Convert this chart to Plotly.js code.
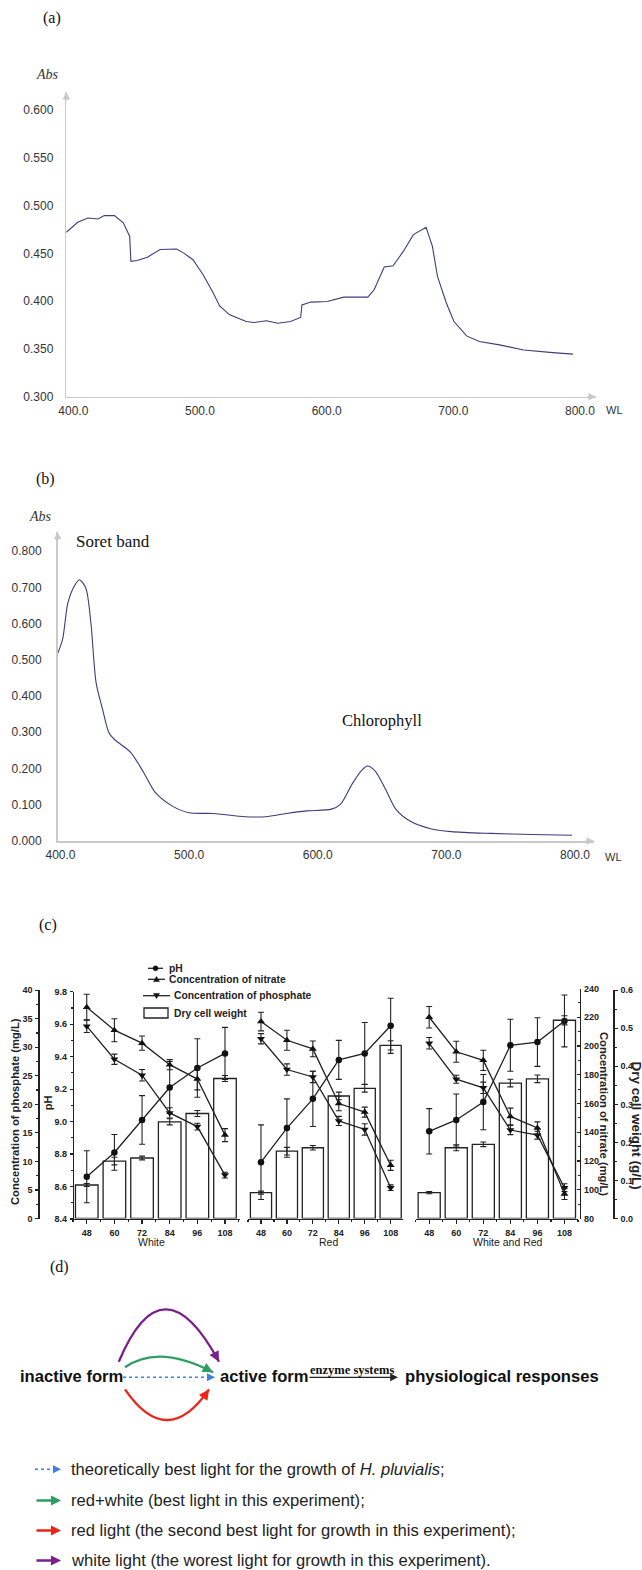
<!DOCTYPE html>
<html><head><meta charset="utf-8">
<script src="https://cdn.plot.ly/plotly-3.0.1.min.js"></script>
<style>html,body{margin:0;padding:0;background:#fff}#chart{width:642px;height:1570px}</style>
</head><body><div id="chart"></div>
<script>
// ---------- DATA ----------
// (a) absorption spectrum
const wlA  = [400,409,417,425,430,438,445,450,451,456,464,474,487,493,500,508,516,521,529,542,548,558,567,577,585,586,593,606,619,638,643,651,658,666,674,684,689,693,700,706,716,726,742,761,784,800];
const absA = [0.472,0.4825,0.487,0.486,0.4895,0.4895,0.482,0.468,0.4416,0.4426,0.446,0.454,0.4545,0.450,0.4433,0.4276,0.4084,0.395,0.3857,0.3787,0.3776,0.3794,0.3769,0.3787,0.3829,0.3961,0.399,0.3996,0.4042,0.4042,0.4119,0.4357,0.437,0.452,0.4696,0.4773,0.4573,0.4259,0.398,0.3787,0.3636,0.3577,0.3542,0.3489,0.3461,0.3445];
// (b) absorption spectrum
const wlB  = [400,404,408,413,417,422,426,430,435,440,445,449,457,467,476,489,502,521,546,562,578,594,613,620,629,636,641,647,655,663,674,690,706,737,769,800];
const absB = [0.516,0.557,0.656,0.703,0.721,0.698,0.600,0.437,0.364,0.299,0.278,0.267,0.244,0.189,0.134,0.097,0.078,0.076,0.067,0.067,0.076,0.083,0.088,0.101,0.157,0.193,0.207,0.193,0.143,0.088,0.055,0.034,0.026,0.021,0.018,0.016];
const specTicks = [400,500,600,700,800];
const specTickText = ['400.0','500.0','600.0','700.0','800.0'];
const absTicksA = [0.30,0.35,0.40,0.45,0.50,0.55,0.60];
const absTicksB = [0,0.1,0.2,0.3,0.4,0.5,0.6,0.7,0.8];

// (c) culture time (h)
const hours = [48,60,72,84,96,108];
const lightNames = ['White','Red','White and Red'];
const pH_White = [8.66,8.81,9.01,9.21,9.33,9.42];
const pH_Red   = [8.75,8.96,9.14,9.38,9.42,9.59];
const pH_WR    = [8.94,9.01,9.12,9.47,9.49,9.62];
const pHErr_White = [0.16,0.11,0.15,0.16,0.18,0.16];
const pHErr_Red   = [0.23,0.18,0.17,0.12,0.19,0.17];
const pHErr_WR    = [0.14,0.16,0.17,0.16,0.15,0.16];
const nitrate_White = [227,211,202,187,177,138];
const nitrate_Red   = [217,204,198,160,154,117];
const nitrate_WR    = [220,196,190,151,143,97];
const nitrateErr_White = [9,8,5,3.5,7.5,4.5];
const nitrateErr_Red   = [6.5,7,5.5,5,3.5,3.5];
const nitrateErr_WR    = [7.5,7.3,7,5.8,4.2,3.8];
const phosphate_White = [33.7,27.9,25.1,18.5,16.1,7.6];
const phosphate_Red   = [31.5,26.1,24.8,17.1,15.6,5.4];
const phosphate_WR    = [30.7,24.4,22.9,15.5,14.6,5.4];
const phosphateErr_White = [1.1,0.9,1.0,0.9,0.6,0.5];
const phosphateErr_Red   = [0.9,1.0,1.0,0.8,1.0,0.5];
const phosphateErr_WR    = [1.0,0.7,1.0,0.8,0.7,0.7];
const dcw_White = [0.088,0.151,0.159,0.254,0.276,0.368];
const dcw_Red   = [0.068,0.177,0.186,0.322,0.342,0.455];
const dcw_WR    = [0.068,0.186,0.195,0.356,0.367,0.521];
const dcwErr_White = [0.004,0.010,0.005,0.008,0.008,0.008];
const dcwErr_Red   = [0.004,0.010,0.006,0.010,0.010,0.012];
const dcwErr_WR    = [0.003,0.008,0.006,0.010,0.010,0.012];

// ---------- HELPERS ----------
const W = 642, H = 1570;
const X = p => p / W;
const Y = p => 1 - p / H;
const fSans = 'Liberation Sans, Arial, sans-serif';
const fNarrow = 'Liberation Sans Narrow, Arial Narrow, Liberation Sans, sans-serif';
const fSerif = 'Liberation Serif, Times New Roman, serif';
const axGray = '#c9c9c9';
const ink = '#222';

const traces = [];
// (a)
traces.push({x: wlA, y: absA, xaxis: 'x', yaxis: 'y', type: 'scatter', mode: 'lines',
  line: {color: '#3d3d7c', width: 1.1}, hoverinfo: 'skip'});
// (b)
traces.push({x: wlB, y: absB, xaxis: 'x2', yaxis: 'y2', type: 'scatter', mode: 'lines',
  line: {color: '#3d3d7c', width: 1.1, shape: 'spline', smoothing: 0.8}, hoverinfo: 'skip'});

// (c)
const panels = [
  {xa: 'x3', pH: pH_White, pHE: pHErr_White, ni: nitrate_White, niE: nitrateErr_White, ph: phosphate_White, phE: phosphateErr_White, d: dcw_White, dE: dcwErr_White},
  {xa: 'x4', pH: pH_Red, pHE: pHErr_Red, ni: nitrate_Red, niE: nitrateErr_Red, ph: phosphate_Red, phE: phosphateErr_Red, d: dcw_Red, dE: dcwErr_Red},
  {xa: 'x5', pH: pH_WR, pHE: pHErr_WR, ni: nitrate_WR, niE: nitrateErr_WR, ph: phosphate_WR, phE: phosphateErr_WR, d: dcw_WR, dE: dcwErr_WR}
];
const errStyle = arr => ({type: 'data', array: arr, visible: true, color: ink, thickness: 1.1, width: 3});
panels.forEach(p => {
  traces.push({type: 'bar', x: hours, y: p.d, xaxis: p.xa, yaxis: 'y6', width: 9.8,
    marker: {color: 'rgba(0,0,0,0)', line: {color: ink, width: 1.3}}, error_y: errStyle(p.dE), hoverinfo: 'skip'});
  traces.push({type: 'scatter', mode: 'lines+markers', x: hours, y: p.pH, xaxis: p.xa, yaxis: 'y3',
    line: {color: ink, width: 1.3}, marker: {symbol: 'circle', size: 6.5, color: '#111'}, error_y: errStyle(p.pHE), hoverinfo: 'skip'});
  traces.push({type: 'scatter', mode: 'lines+markers', x: hours, y: p.ni, xaxis: p.xa, yaxis: 'y5',
    line: {color: ink, width: 1.3}, marker: {symbol: 'triangle-up', size: 7, color: '#111'}, error_y: errStyle(p.niE), hoverinfo: 'skip'});
  traces.push({type: 'scatter', mode: 'lines+markers', x: hours, y: p.ph, xaxis: p.xa, yaxis: 'y4',
    line: {color: ink, width: 1.3}, marker: {symbol: 'triangle-down', size: 7, color: '#111'}, error_y: errStyle(p.phE), hoverinfo: 'skip'});
});

// ---------- AXES ----------
const specTickFont = {family: fNarrow, size: 12, color: '#333'};
const xa = {domain: [X(66.3), X(596)], range: [400, 400 + (596 - 66.3) / 1.2668], anchor: 'y',
  tickmode: 'array', tickvals: specTicks, ticktext: specTickText, ticks: '', showgrid: false, zeroline: false,
  showline: true, linecolor: axGray, linewidth: 1.5, tickfont: specTickFont, ticklabelshift: 7, ticklabelstandoff: 2};
const ya = {domain: [Y(396.7), Y(92)], range: [0.3, 0.3 + (396.7 - 92) / 955.7], anchor: 'x',
  tickmode: 'array', tickvals: absTicksA, ticktext: absTicksA.map(v => v.toFixed(3)), ticks: '', showgrid: false, zeroline: false,
  showline: true, linecolor: axGray, linewidth: 1.5, tickfont: specTickFont, ticklabelstandoff: 9};
const xa2 = {domain: [X(57.5), X(594)], range: [400, 400 + (594 - 57.5) / 1.28625], anchor: 'y2',
  tickmode: 'array', tickvals: specTicks, ticktext: specTickText, ticks: '', showgrid: false, zeroline: false,
  showline: true, linecolor: axGray, linewidth: 1.5, tickfont: specTickFont, ticklabelshift: 3, ticklabelstandoff: 2};
const ya2 = {domain: [Y(841), Y(531.7)], range: [0, (841 - 531.7) / 362.4], anchor: 'x2',
  tickmode: 'array', tickvals: absTicksB, ticktext: absTicksB.map(v => v.toFixed(3)), ticks: '', showgrid: false, zeroline: false,
  showline: true, linecolor: axGray, linewidth: 1.5, tickfont: specTickFont, ticklabelstandoff: 12};

const cTickFont = {family: fSans, size: 9, color: '#222', weight: 'bold'};
function panelX(d0, d1, r0, r1) {
  return {domain: [X(d0), X(d1)], range: [r0, r1], anchor: 'y3', tickmode: 'array', tickvals: hours,
    ticks: 'outside', ticklen: 4, tickwidth: 1.2, tickcolor: ink, showline: true, linecolor: ink, linewidth: 1.3,
    showgrid: false, zeroline: false, tickfont: cTickFont, ticklabelstandoff: 1,
    minor: {tickmode: 'linear', tick0: 42, dtick: 6, ticks: 'outside', ticklen: 2, tickcolor: ink, showgrid: false}};
}
const cY = (d0, d1, range, pos, side, extra) => Object.assign({domain: [Y(d0), Y(d1)], range: range, anchor: 'free', position: X(pos), side: side,
  showline: true, linecolor: ink, linewidth: 1.3, ticks: 'outside', ticklen: 3, tickwidth: 1.2, tickcolor: ink,
  showgrid: false, zeroline: false, tickfont: cTickFont, ticklabelstandoff: 1}, extra);

const layout = {
  width: W, height: H, margin: {l: 0, r: 0, t: 0, b: 0}, paper_bgcolor: '#fff', plot_bgcolor: 'rgba(0,0,0,0)',
  showlegend: false, font: {family: fSans, color: '#222'},
  xaxis: xa, yaxis: ya, xaxis2: xa2, yaxis2: ya2,
  xaxis3: panelX(72.7, 239.5, 41.9, 114.3),
  xaxis4: panelX(247.7, 403.4, 41.85, 113.9),
  xaxis5: panelX(415.6, 578, 41.97, 114.0),
  yaxis3: cY(1219, 991.7, [8.4, 9.8], 72.7, 'left', {dtick: 0.2, tick0: 8.4, tickformat: '.1f',
    minor: {dtick: 0.1, ticks: 'outside', ticklen: 2, tickcolor: ink}}),
  yaxis4: cY(1218.5, 990.2, [0, 40], 38.3, 'left', {dtick: 5, tick0: 0,
    minor: {dtick: 2.5, ticks: 'outside', ticklen: 2, tickcolor: ink}}),
  yaxis5: cY(1218.5, 988.5, [80, 240], 580, 'right', {dtick: 20, tick0: 80, ticks: 'inside',
    minor: {dtick: 10, ticks: 'inside', ticklen: 2, tickcolor: ink}}),
  yaxis6: cY(1218.5, 990.2, [0, 0.6], 613.3, 'right', {dtick: 0.1, tick0: 0, tickformat: '.1f',
    minor: {dtick: 0.05, ticks: 'outside', ticklen: 2, tickcolor: ink}}),
  shapes: [], annotations: []
};

const A = layout.annotations, S = layout.shapes;
function txt(text, x, y, font, opts) {
  A.push(Object.assign({text: text, x: X(x), y: Y(y), xref: 'paper', yref: 'paper', showarrow: false,
    xanchor: 'center', yanchor: 'middle', font: font}, opts || {}));
}
function arrowHead(x, y, ax, ay, color, width, size) {
  A.push({text: '', x: X(x), y: Y(y), xref: 'paper', yref: 'paper', showarrow: true, ax: ax, ay: ay,
    axref: 'pixel', ayref: 'pixel', arrowhead: 2, arrowsize: size || 1, arrowwidth: width, arrowcolor: color, standoff: 0});
}
function line(x0, y0, x1, y1, color, width, dash) {
  S.push({type: 'line', xref: 'paper', yref: 'paper', x0: X(x0), y0: Y(y0), x1: X(x1), y1: Y(y1),
    line: {color: color, width: width, dash: dash || 'solid'}});
}

// ----- (a) decorations -----
txt('(a)', 52, 18, {family: fSerif, size: 16, color: '#111'});
txt('<i>Abs</i>', 48, 75, {family: fSerif, size: 14, color: '#333'});
arrowHead(66.3, 92, 0, 10, axGray, 1.5, 1);
arrowHead(596, 396.7, -10, 0, axGray, 1.5, 1);
txt('WL', 614, 410, {family: fNarrow, size: 11, color: '#333'});

// ----- (b) decorations -----
txt('(b)', 46, 479, {family: fSerif, size: 16, color: '#111'});
txt('<i>Abs</i>', 40, 516.7, {family: fSerif, size: 14, color: '#333'});
txt('Soret band', 74, 541.7, {family: fSerif, size: 17, color: '#111'}, {xanchor: 'left'});
txt('Chlorophyll', 382, 720, {family: fSerif, size: 16.5, color: '#111'});
arrowHead(57.5, 531.7, 0, 10, axGray, 1.5, 1);
arrowHead(594, 841, -10, 0, axGray, 1.5, 1);
txt('WL', 613, 856.7, {family: fNarrow, size: 11, color: '#333'});

// ----- (c) decorations -----
txt('(c)', 48, 925, {family: fSerif, size: 16, color: '#111'});
const legFont = {family: fSans, size: 10.3, color: '#222', weight: 'bold'};
// pH
line(148, 968.3, 163, 968.3, ink, 1.3);
S.push({type: 'circle', xref: 'paper', yref: 'paper', x0: X(153), x1: X(158), y0: Y(970.8), y1: Y(965.8), fillcolor: '#111', line: {color: '#111', width: 0.5}});
txt('pH', 167, 968.3, legFont, {xanchor: 'left'});
// nitrate
line(148, 979.3, 165, 979.3, ink, 1.3);
S.push({type: 'path', xref: 'paper', yref: 'paper', path: `M ${X(153.5)},${Y(981.6)} L ${X(159.5)},${Y(981.6)} L ${X(156.5)},${Y(976.4)} Z`, fillcolor: '#111', line: {color: '#111', width: 0.5}});
txt('Concentration of nitrate', 167, 979.3, legFont, {xanchor: 'left'});
// phosphate
line(143, 995.7, 170, 995.7, ink, 1.3);
S.push({type: 'path', xref: 'paper', yref: 'paper', path: `M ${X(153.5)},${Y(993.4)} L ${X(159.5)},${Y(993.4)} L ${X(156.5)},${Y(998.6)} Z`, fillcolor: '#111', line: {color: '#111', width: 0.5}});
txt('Concentration of phosphate', 172, 995.7, legFont, {xanchor: 'left'});
// dry cell weight
S.push({type: 'rect', xref: 'paper', yref: 'paper', x0: X(144), x1: X(168), y0: Y(1018), y1: Y(1008), line: {color: ink, width: 1.3}});
txt('Dry cell weight', 172, 1013, legFont, {xanchor: 'left'});
// axis titles
const tFont = {family: fSans, size: 11.2, color: '#222', weight: 'bold'};
txt('Concentration of phosphate (mg/L)', 15, 1112, tFont, {textangle: -90});
txt('pH', 48.3, 1103, tFont, {textangle: -90});
txt('Concentration of nitrate (mg/L)', 604, 1114, tFont, {textangle: 90});
txt('Dry cell weight (g/L)', 636.5, 1125, {family: fSans, size: 13.5, color: '#222', weight: 'bold'}, {textangle: 90});
// panel names
const pnFont = {family: fSans, size: 10.5, color: '#222'};
txt(lightNames[0], 151.5, 1242, pnFont);
txt(lightNames[1], 328.4, 1242, pnFont);
txt(lightNames[2], 507.8, 1242, pnFont);

// ----- (d) diagram -----
txt('(d)', 59.4, 1266.7, {family: fSerif, size: 16, color: '#111'});
const dFont = {family: fSans, size: 16.6, color: '#111', weight: 'bold'};
txt('inactive form', 18.4, 1376, dFont, {xanchor: 'left'});
txt('active form', 218, 1376, dFont, {xanchor: 'left'});
txt('physiological responses', 403, 1376, dFont, {xanchor: 'left'});
txt('<b>enzyme systems</b>', 352, 1369.5, {family: fSerif, size: 12.5, color: '#111'});
// enzyme arrow
arrowHead(398, 1377.3, -90, 0, '#222', 1.3, 1.2);
// blue dotted
const cBlue = '#3f7fe0', cGreen = '#2e9e62', cRed = '#ee2419', cPurple = '#7b1f8f';
line(123, 1377.3, 211, 1377.3, cBlue, 1.6, 'dot');
arrowHead(215, 1377.3, -5, 0, cBlue, 1.6, 1);
// arcs (quadratic)
function arc(p0, c, p1, color) {
  S.push({type: 'path', xref: 'paper', yref: 'paper',
    path: `M ${X(p0[0])},${Y(p0[1])} Q ${X(c[0])},${Y(c[1])} ${X(p1[0])},${Y(p1[1])}`,
    line: {color: color, width: 2.3}});
  const tx = p1[0] - c[0], ty = p1[1] - c[1], L = Math.hypot(tx, ty);
  arrowHead(p1[0], p1[1], -tx / L * 6, -ty / L * 6, color, 2.3, 0.9);
}
arc([118.8, 1361.7], [162.7, 1256.9], [219, 1361.7], cPurple);
arc([125, 1367.3], [158.6, 1343.6], [213, 1372.3], cGreen);
arc([125, 1389.3], [167, 1450.7], [209, 1389.3], cRed);

// legend of (d)
const lFont = {family: fSans, size: 16.6, color: '#222'};
line(35, 1469.3, 57, 1469.3, cBlue, 1.6, 'dot');
arrowHead(61, 1469.3, -5, 0, cBlue, 1.6, 1);
txt('theoretically best light for the growth of <i>H. pluvialis</i>;', 68.8, 1469.3, lFont, {xanchor: 'left'});
arrowHead(61, 1500.5, -26, 0, cGreen, 2.5, 0.8);
txt('red+white (best light in this experiment);', 68.8, 1500.5, lFont, {xanchor: 'left'});
arrowHead(61, 1530.5, -26, 0, cRed, 2.5, 0.8);
txt('red light (the second best light for growth in this experiment);', 68.8, 1530.5, lFont, {xanchor: 'left'});
arrowHead(61, 1560.5, -26, 0, cPurple, 2.5, 0.8);
txt('white light (the worest light for growth in this experiment).', 68.8, 1560.5, lFont, {xanchor: 'left'});

Plotly.newPlot('chart', traces, layout, {displayModeBar: false, staticPlot: true});
</script>
</body></html>
